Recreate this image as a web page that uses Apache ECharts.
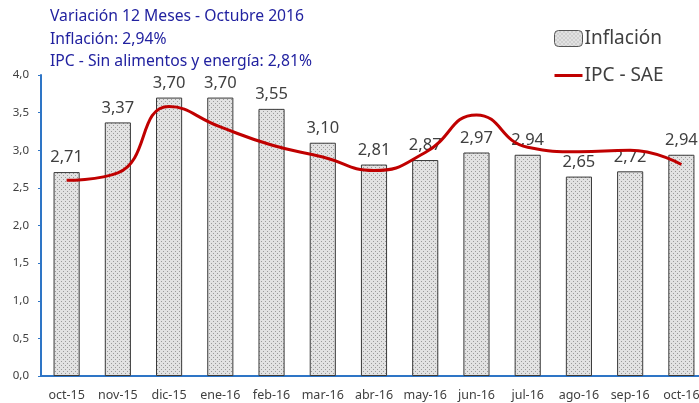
<!DOCTYPE html>
<html>
<head>
<meta charset="utf-8">
<script src="https://cdn.jsdelivr.net/npm/echarts@6/dist/echarts.min.js"></script>
<style>
  html, body { margin: 0; padding: 0; background: #ffffff; overflow: hidden; }
  /* plot runs a little past the right edge, as in the original */
  #chart { width: 707px; height: 403px; }
</style>
</head>
<body>
<div id="chart"></div>
<script>
const months = ['oct-15', 'nov-15', 'dic-15', 'ene-16', 'feb-16', 'mar-16', 'abr-16',
  'may-16', 'jun-16', 'jul-16', 'ago-16', 'sep-16', 'oct-16'];
const inflacion = [2.71, 3.37, 3.70, 3.70, 3.55, 3.10, 2.81, 2.87, 2.97, 2.94, 2.65, 2.72, 2.94];
const ipcSae = [2.60, 2.70, 3.58, 3.31, 3.07, 2.91, 2.73, 2.97, 3.47, 3.04, 2.98, 3.00, 2.81];
const titleLines = [
  'Variación 12 Meses - Octubre 2016',
  'Inflación: 2,94%',
  'IPC - Sin alimentos y energía: 2,81%'
];

const FONT = '"Noto Sans", sans-serif';

// dotted grey fill like the Excel pattern
const makeDots = () => {
  const c = document.createElement('canvas');
  c.width = 4;
  c.height = 4;
  const ctx = c.getContext('2d');
  ctx.fillStyle = '#e2e2e2';
  ctx.fillRect(0, 0, 4, 4);
  ctx.fillStyle = '#9a9a9a';
  ctx.fillRect(1, 1, 1, 1);
  ctx.fillRect(3, 3, 1, 1);
  return c;
};
const dots = { image: makeDots(), repeat: 'repeat' };

const comma = (v, d) => v.toFixed(d).replace('.', ',');

const chart = echarts.init(document.getElementById('chart'));
chart.setOption({
  animation: false,
  graphic: titleLines.map((t, i) => ({
    type: 'text',
    left: 50,
    top: 9 + i * 22.5,
    style: { text: t, fill: '#2222a0', font: '15.7px ' + FONT }
  })),
  legend: {
    orient: 'vertical',
    left: 549,
    top: 24,
    itemGap: 18,
    itemWidth: 28,
    itemHeight: 16,
    textStyle: { fontFamily: FONT, fontSize: 19, color: '#404040', padding: [0, 0, 0, -3] },
    data: [
      { name: 'Inflación', itemStyle: { color: dots, borderColor: '#555', borderWidth: 1 } },
      { name: 'IPC - SAE', icon: 'path://M0,0 L28,0 L28,3 L0,3 Z', itemStyle: { color: '#c00000' } }
    ]
  },
  grid: { left: 41, right: 0, top: 75, bottom: 27 },
  xAxis: {
    type: 'category',
    data: months,
    axisLine: { lineStyle: { color: '#2e75c6', width: 2 } },
    axisTick: { show: false },
    axisLabel: { color: '#404040', fontFamily: FONT, fontSize: 12.5, margin: 13, interval: 0 }
  },
  yAxis: {
    type: 'value',
    min: 0,
    max: 4,
    interval: 0.5,
    splitLine: { show: false },
    axisLine: { show: true, lineStyle: { color: '#2e75c6', width: 2 } },
    axisTick: { show: true, length: 3, lineStyle: { color: '#2e75c6' } },
    axisLabel: {
      color: '#404040', fontFamily: FONT, fontSize: 11.5, margin: 12,
      formatter: v => comma(v, 1)
    }
  },
  series: [
    {
      name: 'Inflación',
      type: 'bar',
      data: inflacion,
      barWidth: '51%',
      itemStyle: { color: dots, borderColor: '#3a3a3a', borderWidth: 1 },
      label: {
        show: true,
        position: 'top',
        distance: 6,
        color: '#404040',
        fontFamily: FONT,
        fontSize: 16.5,
        formatter: p => comma(p.value, 2)
      }
    },
    {
      name: 'IPC - SAE',
      type: 'line',
      data: ipcSae,
      smooth: 0.5,
      symbol: 'none',
      lineStyle: { color: '#c00000', width: 3 },
      itemStyle: { color: '#c00000' },
      z: 5
    }
  ]
});
</script>
</body>
</html>
